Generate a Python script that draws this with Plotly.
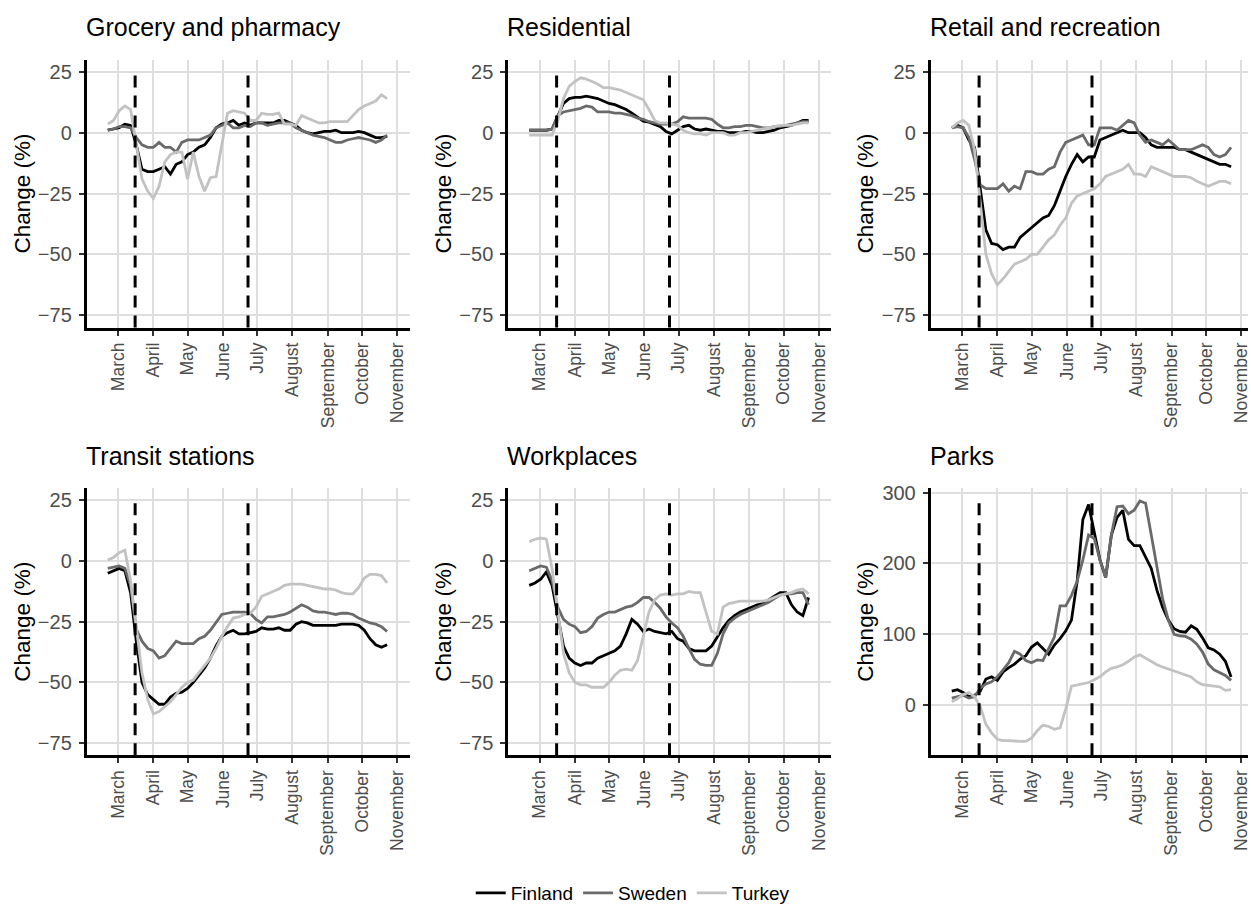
import pandas as pd
import plotly.graph_objects as go

# ---------------- data ----------------
dates = pd.date_range("2020-02-21", periods=50, freq="5D")
countries = ["Finland", "Sweden", "Turkey"]
panel_titles = ["Grocery and pharmacy", "Residential", "Retail and recreation",
                "Transit stations", "Workplaces", "Parks"]
event_dates = ["2020-03-16", "2020-06-23"]
month_ticks = ["2020-03-01", "2020-04-01", "2020-05-01", "2020-06-01", "2020-07-01",
               "2020-08-01", "2020-09-01", "2020-10-01", "2020-11-01"]
month_labels = ["March", "April", "May", "June", "July", "August",
                "September", "October", "November"]
y_ticks_default = [-75, -50, -25, 0, 25]
y_ticks_parks = [0, 100, 200, 300]

grocery_finland = [1, 1.5, 2, 3.5, 3, -5, -15, -16, -16, -15,
                   -14, -17, -13, -12, -9, -8, -6, -5, -2, 2,
                   3.5, 4, 5, 3, 4, 3, 4, 4, 4, 4,
                   5, 5, 4, 3, 1, 0, -0.5, 0, 0.5, 0.5,
                   1, 0, 0, 0, 0.5, 0, -1, -2, -2, -1.5]
grocery_sweden = [1, 1.5, 2.5, 2.5, 2, -2, -5, -6, -6, -4,
                  -6, -6, -8, -4, -3, -3, -3, -2, -1, 2,
                  3, 4, 2, 2, 3, 2.5, 4, 4, 3, 3.5,
                  4, 4, 4, 2, 1, 0, -1, -1.5, -2, -3,
                  -4, -4, -3, -2.5, -2, -2.5, -3, -4, -3, -1]
grocery_turkey = [3.5, 5, 9, 11, 9.5, -5, -19, -24, -27, -22,
                  -12, -9, -8, -8, -19, -8, -18, -24, -18.5, -18,
                  -5, 8, 9, 8.5, 8, 5, 5, 8, 7.5, 7.5,
                  8, 3.5, 3.5, 3, 7, 6, 5, 4, 4, 4.5,
                  4.5, 4.5, 4.5, 7, 9.5, 11, 12, 13, 15.5, 14]

residential_finland = [1, 1, 1, 1, 1.5, 7, 12, 14, 14.5, 14.5,
                       15, 14.5, 14, 13, 12, 11.5, 10.5, 9.5, 8, 6.5,
                       4.7, 4.3, 3.5, 2.5, 0.5, -0.5, 1, 2.5, 3, 1.5,
                       1, 1.5, 1, 0.5, 0.5, 0, 0, 0, 0.5, 0.5,
                       0, 0, 0.5, 1, 2, 2.5, 3, 4, 5, 5]
residential_sweden = [1, 1, 1, 1, 1.5, 7, 8.5, 9, 9.5, 10,
                      11, 10.5, 8.5, 8.5, 8.5, 8, 8, 7.5, 7, 6,
                      5.5, 4.5, 4, 3.5, 3.5, 3.5, 4.5, 6.5, 6, 6,
                      6, 6, 5.5, 3.5, 2, 2, 2.5, 2.5, 3, 3,
                      2.5, 2, 2, 2.5, 2.5, 3, 3.5, 4, 4.5, 4.5]
residential_turkey = [-1, -1, -1, -1, -1, 5, 14, 19, 21, 22.5,
                      22, 21, 20, 18.5, 18.5, 18, 17.5, 16.5, 15.5, 14.5,
                      13.5, 9.5, 5, 4, 4, 3.5, 3, 1, 0, -0.5,
                      -0.5, -1, 0, 0, 0, -1, -1, 0, 0, 0.5,
                      1, 1.5, 2, 2.5, 3, 3, 3, 3.5, 4, 4]

retail_finland = [2, 3, 2, -3, -6, -24, -40, -45.5, -46, -48,
                  -47, -47, -43, -41, -39, -37, -35, -34, -30, -24,
                  -18, -13, -9, -12, -10, -10, -3, -2, -1, 0,
                  1, 0, 0, 0, -2, -5, -6, -6, -6, -6,
                  -7, -7, -8, -9, -10, -11, -12, -13, -13, -14]
retail_sweden = [2, 2.5, 2, -2, -11, -21.5, -23, -23, -23, -21,
                 -24, -22, -23, -16, -16, -17, -17, -15, -14, -8,
                 -4, -3, -2, -1, -5, -5, 2, 2, 2, 1,
                 3, 5, 4, -1, -4, -3, -4, -5, -3, -5,
                 -7, -7, -7, -6, -5, -6, -9, -10, -9, -6]
retail_turkey = [2, 4, 5, 3, -7, -30, -50, -58, -62.5, -60,
                 -57, -54, -53, -52, -50, -50, -47, -44, -42, -38,
                 -35, -29, -26, -25, -24, -23, -21, -18, -17, -16,
                 -15, -13, -17, -17, -18, -14, -15, -16, -17, -18,
                 -18, -18, -18.5, -20, -21, -22, -21, -20, -20, -21]

transit_finland = [-5, -4, -3, -4, -13, -33, -50, -55, -57, -59,
                   -59, -56, -54.5, -54, -52.5, -50, -47, -44, -40, -35,
                   -31, -29.5, -28.5, -30, -30, -29.5, -29, -27.5, -28, -28,
                   -27.5, -28.5, -28.5, -26, -25, -25.5, -26.5, -26.5, -26.5, -26.5,
                   -26.5, -26, -26, -26, -26.5, -28.5, -32, -34.5, -35.5, -34.5]
transit_sweden = [-3, -2.5, -2, -3, -10, -28, -33, -36, -37, -40,
                  -39, -36, -33, -34, -34, -34, -32, -31, -28.5, -25,
                  -22, -21.5, -21, -21, -21, -21.5, -24, -25.5, -23, -23,
                  -22.5, -22, -21, -19.5, -18, -19, -20.5, -21, -21, -21.5,
                  -22, -21.5, -21.5, -22, -23.5, -24.5, -25.5, -26, -27, -29]
transit_turkey = [0.5, 1.5, 3.5, 4.5, -8, -28, -46, -57, -63, -62,
                  -60, -58, -55, -52, -50, -49, -46, -43, -40, -36,
                  -31, -27, -23.5, -23, -22, -21.5, -19, -14.5, -13.5, -12.5,
                  -11.5, -10, -9.5, -9.5, -9.5, -10, -10.5, -11, -11.5, -11.5,
                  -12, -13, -13.5, -13.5, -11, -7, -5.5, -5.5, -6, -9]

workplaces_finland = [-10, -9, -7.5, -4.5, -10, -23, -35, -40, -42, -43,
                      -42, -42, -40, -39, -38, -37, -35, -30, -24, -26,
                      -29, -28, -29, -29.5, -30, -29, -32, -33, -36, -37,
                      -37, -37, -35, -31, -27.5, -24.5, -22.5, -21, -20, -19,
                      -18, -17.5, -16, -14.5, -13, -13, -18, -21, -22.5, -15]
workplaces_sweden = [-4, -3, -2, -2.5, -8, -19, -24, -26, -27, -29.5,
                     -29, -27, -23.5, -22, -21, -21, -20, -19, -18.5, -17,
                     -15, -15, -17, -19.5, -23, -25.5, -27.5, -31, -36, -40.5,
                     -42.5, -43, -43, -38, -30, -25.5, -23.5, -22, -21, -20,
                     -19, -18, -17, -15.5, -14, -13.5, -13.5, -13, -13, -18]
workplaces_turkey = [8, 9, 9.5, 9, -3, -20, -38, -46, -50, -51,
                     -51, -52, -52, -52, -50, -47, -45, -44.5, -45, -41,
                     -31, -21, -16, -14, -13.5, -14, -13.5, -13.5, -12.5, -13,
                     -13, -21, -29, -30, -19, -17.5, -17, -16.5, -16.5, -16.5,
                     -16.5, -16.5, -16, -15, -14, -13.5, -13, -12, -11.5, -13.5]

parks_finland = [20, 22, 18, 12, 14, 20, 37, 40, 35, 47,
                 53, 58, 65, 70, 82, 88, 80, 72, 85, 94,
                 105, 120, 175, 262, 283, 245, 205, 180, 240, 265,
                 275, 234, 225, 225, 209, 193, 162, 138, 120, 108,
                 104, 103, 112, 107, 95, 81, 78, 72, 62, 40]
parks_sweden = [10, 12, 14, 10, 12, 24, 30, 33, 40, 50,
                60, 76, 72, 63, 60, 64, 63, 80, 96, 140,
                140, 155, 175, 205, 240, 235, 205, 180, 240, 280,
                281, 270, 275, 288, 285, 240, 195, 150, 120, 100,
                98, 97, 93, 86, 75, 58, 50, 46, 42, 35]
parks_turkey = [5, 9, 15, 18, 12, -2, -27, -39, -48, -50,
                -50, -51, -51, -51, -46, -36, -28, -30, -34, -32,
                -5, 27, 29, 30, 32, 36, 40, 47, 52, 54,
                57, 62, 68, 71, 66, 61, 57, 54, 51, 48,
                46, 43, 40, 33, 29, 28, 27, 26, 21, 22]

panel_data = [
    [grocery_finland, grocery_sweden, grocery_turkey],
    [residential_finland, residential_sweden, residential_turkey],
    [retail_finland, retail_sweden, retail_turkey],
    [transit_finland, transit_sweden, transit_turkey],
    [workplaces_finland, workplaces_sweden, workplaces_turkey],
    [parks_finland, parks_sweden, parks_turkey],
]

# ---------------- styling / layout ----------------
W, H = 1251, 912
colors = {"Finland": "#000000", "Sweden": "#6a6a6a", "Turkey": "#c2c2c2"}
FONT = "Liberation Sans, Arial, Helvetica, sans-serif"

col_px = [(87, 410.5), (509.5, 833), (933, 1251)]
row_px = [(53, 323), (485, 754)]
px_per_day = 1.1429
title_y_px = [20, 452]
ytitle_x_px = [23, 445, 868]

fig = go.Figure()

for i in range(6):
    r, c = divmod(i, 3)
    n = i + 1
    xa = "x" if n == 1 else f"x{n}"
    ya = "y" if n == 1 else f"y{n}"
    for k, country in enumerate(countries):
        fig.add_trace(go.Scatter(
            x=dates, y=panel_data[i][k], mode="lines", name=country,
            legendgroup=country, showlegend=(i == 0),
            line=dict(color=colors[country], width=2.8),
            xaxis=xa, yaxis=ya,
        ))
    for d in event_dates:
        fig.add_shape(type="line", xref=xa, yref=f"{ya} domain",
                      x0=d, x1=d, y0=0, y1=0.97,
                      line=dict(color="black", width=3, dash="12px,8px"))

    x0, x1 = col_px[c]
    y0, y1 = row_px[r]
    left = pd.Timestamp("2020-03-01") - pd.Timedelta(days=27.4)
    right = left + pd.Timedelta(days=(x1 - x0) / px_per_day)
    xkey = "xaxis" if n == 1 else f"xaxis{n}"
    ykey = "yaxis" if n == 1 else f"yaxis{n}"
    fig.layout[xkey] = dict(
        domain=[x0 / W, x1 / W], anchor=ya, range=[left, right],
        tickvals=month_ticks, ticktext=month_labels, tickangle=-90,
        tickfont=dict(family=FONT, size=17.5, color="#4d4d4d"),
        showgrid=True, gridcolor="#dedede", gridwidth=1.8,
        showline=True, linecolor="black", linewidth=3,
        ticks="outside", ticklen=5, tickwidth=1.5, tickcolor="#333333",
        zeroline=False, ticklabeloverflow="allow",
    )
    if i == 5:
        yr, yt = [-70.5, 306], y_ticks_parks
    else:
        yr, yt = [-80, 30], y_ticks_default
    fig.layout[ykey] = dict(
        domain=[1 - y1 / H, 1 - y0 / H], anchor=xa, range=yr,
        tickvals=yt, tickfont=dict(family=FONT, size=20, color="#4d4d4d"),
        showgrid=True, gridcolor="#dedede", gridwidth=1.8,
        showline=True, linecolor="black", linewidth=3,
        ticks="outside", ticklen=5, tickwidth=1.5, tickcolor="#333333",
        zeroline=False, ticklabelstandoff=3,
    )
    fig.add_annotation(text=panel_titles[i], xref="paper", yref="paper",
                       x=(x0 - 3) / W, y=1 - title_y_px[r] / H, xanchor="left", yanchor="middle",
                       showarrow=False, font=dict(family=FONT, size=25, color="black"))
    fig.add_annotation(text="Change (%)", xref="paper", yref="paper",
                       x=ytitle_x_px[c] / W, y=1 - (y0 + y1) / 2 / H,
                       xanchor="center", yanchor="middle", textangle=-90,
                       showarrow=False, font=dict(family=FONT, size=22.5, color="black"))

fig.update_layout(
    width=W, height=H, margin=dict(l=0, r=0, t=0, b=0),
    paper_bgcolor="white", plot_bgcolor="white",
    font=dict(family=FONT),
    legend=dict(orientation="h", x=0.507, xanchor="center", y=0, yanchor="bottom",
                font=dict(family=FONT, size=19, color="black"),
                itemwidth=30, tracegroupgap=0),
    showlegend=True,
)

fig.write_html(
    "out.html",
    config={"displayModeBar": False},
    post_script="document.documentElement.style.margin='0';"
                "document.body.style.margin='0';"
                "document.body.style.overflow='hidden';",
)
